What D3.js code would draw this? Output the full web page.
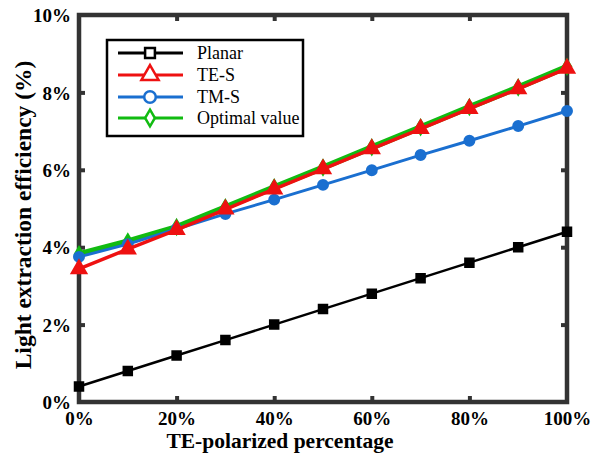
<!DOCTYPE html>
<html><head><meta charset="utf-8">
<script src="https://cdn.jsdelivr.net/npm/d3@7"></script>
<style>body{margin:0;background:#fff;} svg{display:block;}</style>
</head><body>
<svg id="c" width="596" height="456"></svg>
<script>
const xValues = [0,10,20,30,40,50,60,70,80,90,100];
const planar = [0.40,0.80,1.20,1.60,2.00,2.40,2.80,3.20,3.60,4.00,4.40];
const teS = [3.44,3.95,4.45,4.98,5.50,6.02,6.54,7.06,7.58,8.09,8.62];
const tmS = [3.75,4.08,4.47,4.86,5.23,5.61,5.99,6.38,6.75,7.13,7.52];
const optimal = [3.82,4.15,4.52,5.03,5.55,6.06,6.58,7.10,7.62,8.13,8.66];
const xTicks = [0,20,40,60,80,100];
const yTicks = [0,2,4,6,8,10];
const seriesNames = ["Planar","TE-S","TM-S","Optimal value"];
const seriesColors = ["#000000","#ee1111","#1a6fd0","#11bb11"];

const svg = d3.select("#c");
const L=79,R=567,T=15,B=402;
const x = d3.scaleLinear().domain([0,100]).range([L,R]);
const y = d3.scaleLinear().domain([0,10]).range([B,T]);
const axisColor="#333";
const serif = '"Liberation Serif"';

const xb = svg.append("g").attr("transform",`translate(0,${B})`).call(d3.axisBottom(x).tickValues(xTicks).tickSize(-6).tickFormat(d=>d+"%").tickPadding(10));
const xt = svg.append("g").attr("transform",`translate(0,${T})`).call(d3.axisTop(x).tickValues(xTicks).tickSize(-6).tickFormat(""));
const yl = svg.append("g").attr("transform",`translate(${L},0)`).call(d3.axisLeft(y).tickValues(yTicks).tickSize(-6).tickFormat(d=>d+"%").tickPadding(8));
const yr = svg.append("g").attr("transform",`translate(${R},0)`).call(d3.axisRight(y).tickValues(yTicks).tickSize(-6).tickFormat(""));
[xb,xt,yl,yr].forEach(g=>{
  g.attr("font-family",null);
  g.select(".domain").remove();
  g.selectAll(".tick line").attr("stroke",axisColor).attr("stroke-width",4);
  g.selectAll("text").style("font-family",serif).style("font-weight","bold").style("font-size","19px").attr("fill","#000");
});
yl.selectAll("text").attr("dy","0.35em");
xb.selectAll(".tick line").filter(d=>d===0||d===100).remove();
xt.selectAll(".tick line").filter(d=>d===0||d===100).remove();
yl.selectAll(".tick line").filter(d=>d===0||d===10).remove();
yr.selectAll(".tick line").filter(d=>d===0||d===10).remove();

svg.append("rect").attr("x",L).attr("y",T).attr("width",R-L).attr("height",B-T)
  .attr("fill","none").attr("stroke",axisColor).attr("stroke-width",4.5);

svg.append("text").attr("x",280).attr("y",448).attr("text-anchor","middle")
  .style("font-family",serif).style("font-weight","bold").style("font-size","21.5px").text("TE-polarized percentage");
svg.append("text").attr("transform",`translate(31,215) rotate(-90)`).attr("text-anchor","middle")
  .style("font-family",serif).style("font-weight","bold").style("font-size","23.5px").text("Light extraction efficiency (%)");

// tall MATLAB-like diamond
const tallDiamond = {draw(ctx,size){const w=Math.sqrt(size)*0.5,h=w*1.7;ctx.moveTo(0,-h);ctx.lineTo(w,0);ctx.lineTo(0,h);ctx.lineTo(-w,0);ctx.closePath();}};
const line = d3.line().x((d,i)=>x(xValues[i])).y(d=>y(d));
const allData = [planar,teS,tmS,optimal];
const symbols = [d3.symbolSquare,d3.symbolTriangle,d3.symbolCircle,tallDiamond];
const sizes = [64,85,70,64];
const widths = [2.5,3.5,3,6];
const order = [0,3,2,1];
order.forEach(k=>{
  const g = svg.append("g");
  g.append("path").datum(allData[k]).attr("d",line).attr("fill","none")
    .attr("stroke",seriesColors[k]).attr("stroke-width",widths[k]).attr("stroke-linejoin","round");
  g.selectAll("path.m").data(allData[k]).join("path").attr("class","m")
    .attr("transform",(d,i)=>`translate(${x(xValues[i])},${y(d)})`)
    .attr("d",d3.symbol().type(symbols[k]).size(sizes[k]))
    .attr("fill",seriesColors[k]).attr("stroke",seriesColors[k]).attr("stroke-width",2.5);
});

const lg = svg.append("g");
lg.append("rect").attr("x",107).attr("y",40).attr("width",196).attr("height",96)
  .attr("fill","#fff").attr("stroke","#000").attr("stroke-width",2.5);
const rowsY=[53,75,97,118];
seriesNames.forEach((n,k)=>{
  const yy=rowsY[k];
  lg.append("line").attr("x1",118).attr("x2",183).attr("y1",yy).attr("y2",yy)
    .attr("stroke",seriesColors[k]).attr("stroke-width",3);
  lg.append("path").attr("transform",`translate(150,${yy})`)
    .attr("d",d3.symbol().type(symbols[k]).size(sizes[k]*1.5))
    .attr("fill","#fff").attr("stroke",seriesColors[k]).attr("stroke-width",2.5);
  lg.append("text").attr("x",197).attr("y",yy).attr("dy","0.33em")
    .style("font-family",serif).style("font-size","18px").text(n);
});
</script>
</body></html>
